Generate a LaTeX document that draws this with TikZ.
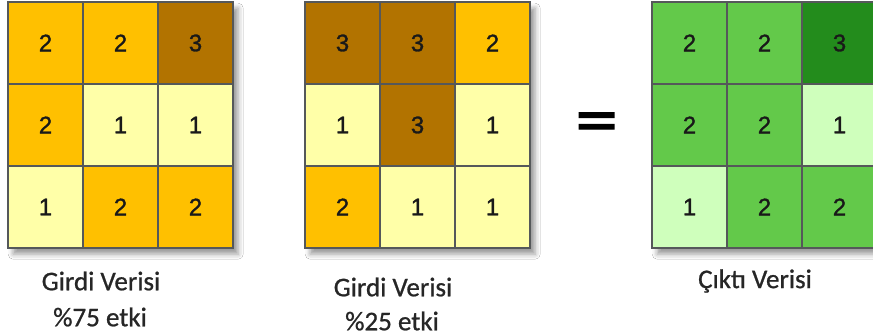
\documentclass[tikz,border=0pt]{standalone}
\usepackage{fontspec}
\setmainfont{Carlito}[RawFeature={embolden=0.8}]
\newfontfamily\digitfont{Liberation Sans}[RawFeature={embolden=1.2}]
\newfontfamily\eqfont{Liberation Sans Bold}[RawFeature={embolden=2.5}]
\usetikzlibrary{shadows.blur}

\definecolor{ylow}{HTML}{FFFFA8}
\definecolor{ymid}{HTML}{FFC000}
\definecolor{yhigh}{HTML}{B27300}
\definecolor{glow}{HTML}{CFFFBC}
\definecolor{gmid}{HTML}{63C94A}
\definecolor{ghigh}{HTML}{238C1C}
\definecolor{gridline}{HTML}{55585A}

\tikzset{
  cell/.style={draw=gridline, line width=1.5pt, minimum width=75pt,
    minimum height=82pt, inner sep=0pt, outer sep=0pt,
    font=\digitfont\fontsize{24}{26}\selectfont, text=black!90},
  gridframe/.style={fill=white, minimum width=225pt, minimum height=246pt,
    inner sep=0pt, anchor=north west,
    blur shadow={shadow xshift=5pt, shadow yshift=-6pt,
      shadow blur radius=5pt, shadow opacity=40}},
  caption/.style={font=\fontsize{27}{30}\selectfont, text=black!85}
}

\begin{document}
\begin{tikzpicture}[x=1pt, y=-1pt]
  \fill[white] (0,0) rectangle (873,336);
  \useasboundingbox (0,0) rectangle (873,336);

  % drop-shadowed frames under each raster
  \node[gridframe] (f1) at (8,2) {};
  \node[gridframe] (f2) at (305,2) {};
  \node[gridframe] (f3) at (652,2) {};

  % first input raster (75 % weight)
  \foreach \r/\c/\f/\v in {0/0/ymid/2, 0/1/ymid/2, 0/2/yhigh/3,
                           1/0/ymid/2, 1/1/ylow/1, 1/2/ylow/1,
                           2/0/ylow/1, 2/1/ymid/2, 2/2/ymid/2}
    \node[cell, fill=\f] (a\r\c) at ({8+75*\c+37.5},{2+82*\r+41}) {\v};

  % second input raster (25 % weight)
  \foreach \r/\c/\f/\v in {0/0/yhigh/3, 0/1/yhigh/3, 0/2/ymid/2,
                           1/0/ylow/1, 1/1/yhigh/3, 1/2/ylow/1,
                           2/0/ymid/2, 2/1/ylow/1, 2/2/ylow/1}
    \node[cell, fill=\f] (b\r\c) at ({305+75*\c+37.5},{2+82*\r+41}) {\v};

  % output raster
  \foreach \r/\c/\f/\v in {0/0/gmid/2, 0/1/gmid/2, 0/2/ghigh/3,
                           1/0/gmid/2, 1/1/gmid/2, 1/2/glow/1,
                           2/0/glow/1, 2/1/gmid/2, 2/2/gmid/2}
    \node[cell, fill=\f] (c\r\c) at ({652+75*\c+37.5},{2+82*\r+41}) {\v};

  % equals sign, squeezed vertically
  \node[inner sep=0pt] (eq) at (596.5,124)
    {\scalebox{0.95}[0.6]{\eqfont\fontsize{72}{72}\selectfont =}};

  % captions
  \node[caption] (l1a) at (101,281) {Girdi Verisi};
  \node[caption] (l1b) at (100,317) {\%75 etki};
  \node[caption] (l2a) at (393,287) {Girdi Verisi};
  \node[caption] (l2b) at (392,321) {\%25 etki};
  \node[caption] (l3) at (755,281) {Çıktı Verisi};
\end{tikzpicture}
\end{document}
